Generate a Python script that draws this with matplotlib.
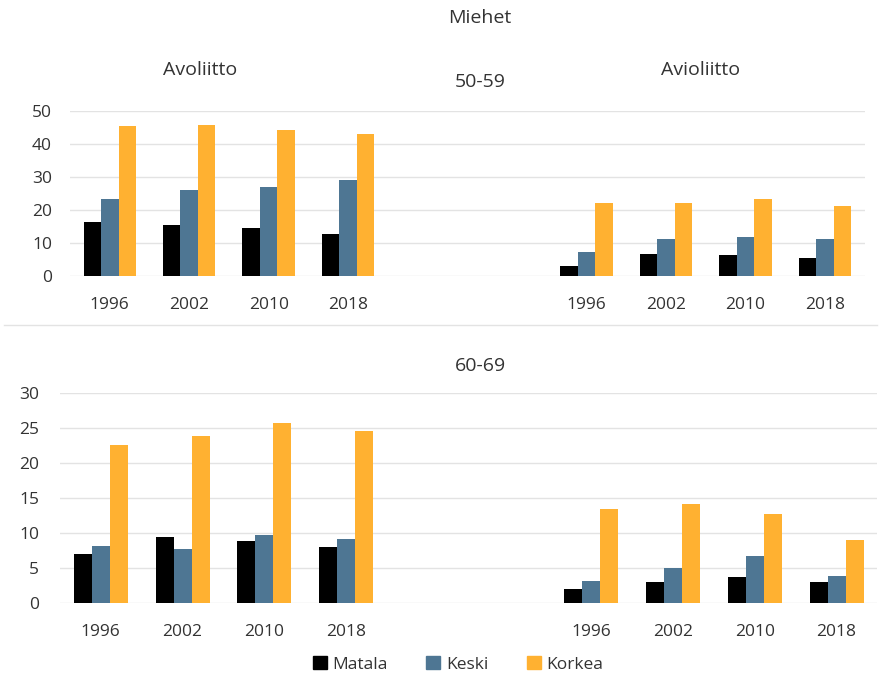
import matplotlib
matplotlib.use('Agg')
import matplotlib.pyplot as plt
from matplotlib.lines import Line2D
from matplotlib.patches import Patch
import numpy as np

plt.rcParams['font.family'] = ['Open Sans', 'DejaVu Sans']

years = ['1996', '2002', '2010', '2018']
series = ['Matala', 'Keski', 'Korkea']
colors = ['#000000', '#4E7693', '#FFB131']

# 50-59, Avoliitto / Avioliitto
avo_50 = {
    'Matala': [16.5, 15.5, 14.7, 12.9],
    'Keski': [23.5, 26.1, 27.1, 29.1],
    'Korkea': [45.5, 45.8, 44.4, 43.0],
}
avi_50 = {
    'Matala': [3.2, 6.6, 6.3, 5.4],
    'Keski': [7.4, 11.2, 11.9, 11.2],
    'Korkea': [22.1, 22.1, 23.5, 21.2],
}
# 60-69
avo_60 = {
    'Matala': [7.0, 9.5, 8.9, 8.1],
    'Keski': [8.2, 7.7, 9.7, 9.2],
    'Korkea': [22.6, 23.9, 25.7, 24.6],
}
avi_60 = {
    'Matala': [2.0, 3.0, 3.8, 3.0],
    'Keski': [3.2, 5.0, 6.8, 3.9],
    'Korkea': [13.5, 14.2, 12.7, 9.0],
}

grid_col = '#E3E3E3'
text_col = '#333333'

fig = plt.figure(figsize=(8.81, 6.75), dpi=100)


def draw_row(ax, left, right, ymax, step, ypad):
    # slots 0-3 left group, 4-5 empty, 6-9 right group
    w = 0.22
    pos_left = np.arange(4)
    pos_right = np.arange(6, 10)
    for i, s in enumerate(series):
        ax.bar(pos_left + (i - 1) * w, left[s], w, color=colors[i])
        ax.bar(pos_right + (i - 1) * w, right[s], w, color=colors[i])
    ax.set_xlim(-0.5, 9.5)
    ax.set_ylim(0, ymax)
    ax.set_yticks(np.arange(0, ymax + 1, step))
    ax.set_xticks(list(pos_left) + list(pos_right))
    ax.set_xticklabels(years + years)
    ax.tick_params(axis='both', length=0, labelsize=12.5, colors=text_col)
    ax.tick_params(axis='x', pad=15)
    ax.tick_params(axis='y', pad=ypad)
    ax.yaxis.grid(True, color=grid_col, linewidth=1)
    ax.set_axisbelow(True)
    for sp in ax.spines.values():
        sp.set_visible(False)


ax1 = fig.add_axes([0.0795, 0.591, 0.902, 0.2444])
draw_row(ax1, avo_50, avi_50, 50, 10, 13)

ax2 = fig.add_axes([0.068, 0.1062, 0.928, 0.311])
draw_row(ax2, avo_60, avi_60, 30, 5, 15)

title_kw = dict(ha='center', va='center', fontsize=14, color=text_col)
fig.text(0.545, 0.973, 'Miehet', **title_kw)
fig.text(0.227, 0.896, 'Avoliitto', **title_kw)
fig.text(0.795, 0.896, 'Avioliitto', **title_kw)
fig.text(0.545, 0.878, '50-59', **title_kw)
fig.text(0.545, 0.458, '60-69', **title_kw)

# separator between rows
fig.add_artist(Line2D([0.005, 0.995], [1 - 325 / 675, 1 - 325 / 675],
                      color=grid_col, linewidth=1, transform=fig.transFigure))

handles = [Patch(color=c) for c in colors]
fig.legend(handles, series, loc='center', bbox_to_anchor=(0.52, 0.016), ncol=3,
           frameon=False, fontsize=12.5, handlelength=0.8, handleheight=0.8,
           handletextpad=0.35, columnspacing=2.2, labelcolor=text_col)

fig.savefig('out.png', dpi=100, facecolor='white')
